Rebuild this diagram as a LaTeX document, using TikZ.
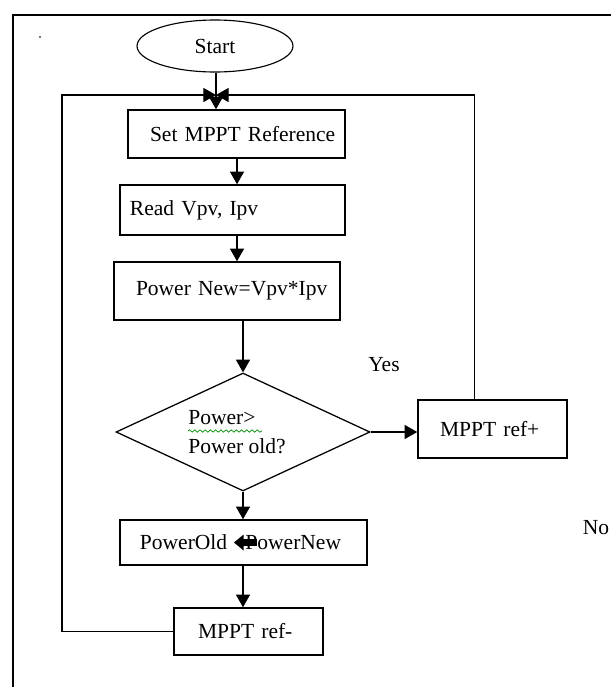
\documentclass[tikz,border=0pt]{standalone}
\usepackage{fontspec}
\setmainfont{Liberation Serif}
\usetikzlibrary{arrows.meta,positioning,shapes.geometric,decorations.pathmorphing}
\tikzset{term/.style={draw,ellipse,line width=.8pt,minimum width=39mm,minimum height=13mm,inner sep=0pt},
 box/.style={draw,line width=1.1pt,align=left,inner xsep=0pt,inner ysep=0pt},
 dec/.style={draw,diamond,shape aspect=2.14,line width=.9pt,align=left,inner sep=0pt,minimum width=63.5mm,minimum height=29.5mm},
 wire/.style={line width=.8pt},arr/.style={wire,-{Triangle[length=9pt,width=10pt]}},
 fat/.style={line width=5pt,-{Triangle[length=7pt,width=11pt]}},
 squig/.style={green!55!black,line width=.5pt,decorate,decoration={snake,amplitude=.3mm,segment length=1.3mm}},
 every node/.style={font=\fontsize{15.3}{21}\selectfont}}
\begin{document}
\begin{tikzpicture}[x=0.25mm,y=-0.25mm]
\useasboundingbox (0,0) rectangle (611,687);
\draw[line width=1.5pt] (13,690) -- (13,15) -- (615,15);
\fill[gray!60!black] (40,37) circle (0.3mm);
\node[term] (start) at (215,46) {Start};
\node[box,text width=54.25mm,minimum height=12mm] (b1) at (236.5,134) {\hspace*{5.5mm}Set MPPT Reference};
\node[box,text width=56.25mm,minimum height=12.5mm] (b2) at (232.5,210) {\hspace*{2.5mm}Read Vpv, Ipv};
\node[box,text width=56.5mm,minimum height=14.5mm] (b3) at (227,291) {\hspace*{5.5mm}Power New=Vpv*Ipv};
\node[dec] (dia) at (243,432) {Power>\\Power old?\hspace*{3mm}};
\node[box,text width=37.25mm,minimum height=14.5mm] (rp) at (492.5,429) {\hspace*{5.5mm}MPPT ref+};
\node[box,text width=61.75mm,minimum height=11.25mm] (po) at (243.5,542.5) {\hspace*{5mm}PowerOld\hspace{13pt}PowerNew};
\node[box,text width=37.25mm,minimum height=11.75mm] (rm) at (248.5,631.5) {\hspace*{6mm}MPPT ref-};
\node (yes) at (384,365) {Yes};
\node (no) at (596,528) {No};
\draw[squig] (188,431) -- (262,431);
\draw[fat] ([xshift=3.4mm]po.center) -- ([xshift=-2.4mm]po.center);
% main flow
\coordinate (jn) at (216,95);
\coordinate (lc) at (62,95);
\coordinate (ax) at (237,0);
\draw[arr] (jn |- start.south) -- (jn |- b1.north);
\draw[arr] (b1.south -| ax) -- (b2.north -| ax);
\draw[arr] (b2.south -| ax) -- (b3.north -| ax);
\draw[arr] (b3.south -| dia.north) -- (dia.north);
\draw[arr] (dia.east) -- (dia.east -| rp.west);
\draw[arr] (dia.south) -- (dia.south |- po.north);
\draw[arr] (po.south -| dia.south) -- (dia.south |- rm.north);
% loops back
\draw[arr] ([xshift=-4.4mm]rp.north) |- (jn);
\draw[arr] (rm.west) -| (lc) -- (jn);
\end{tikzpicture}
\end{document}
